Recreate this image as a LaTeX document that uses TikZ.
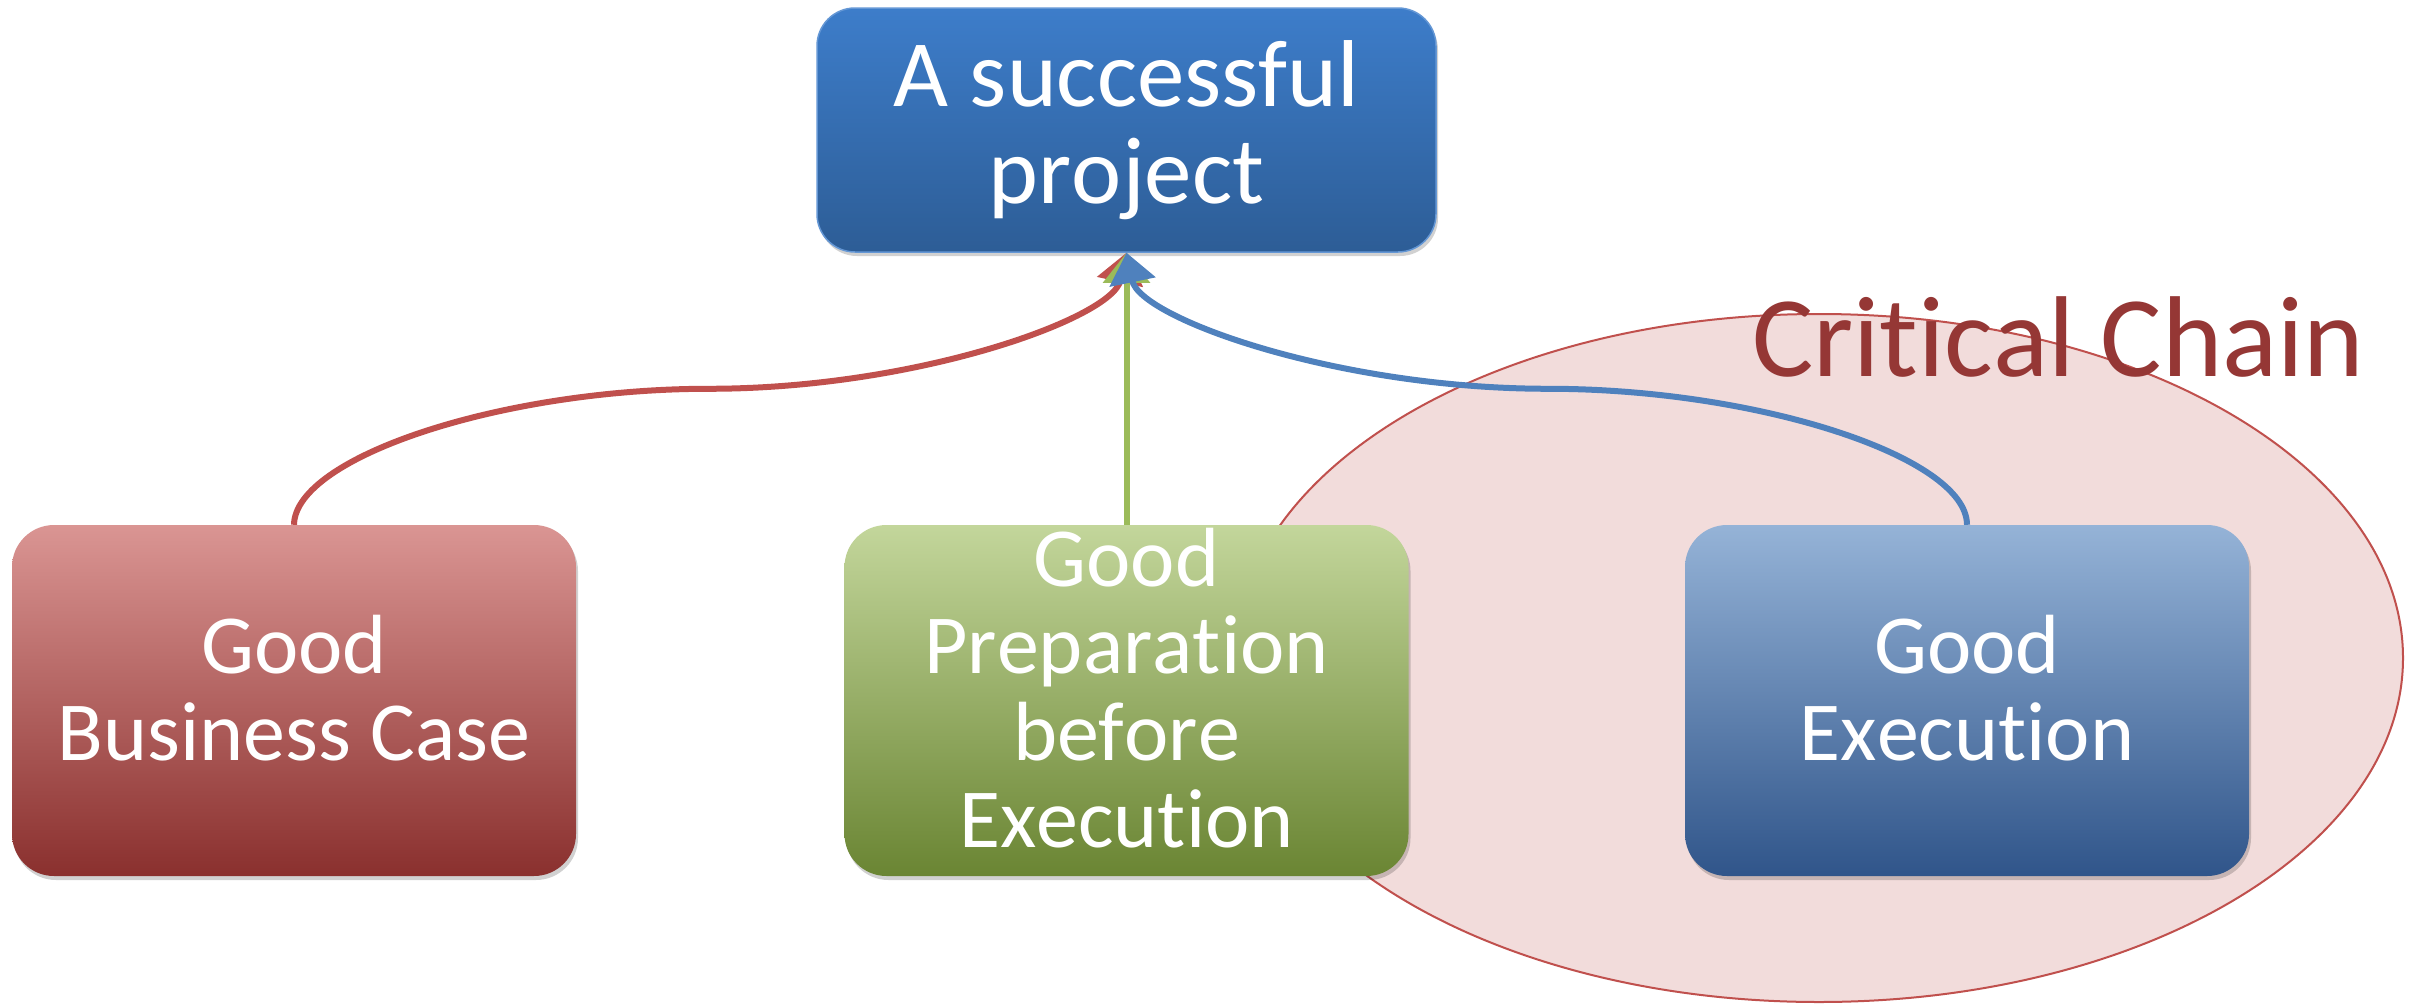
\documentclass[tikz,border=0pt]{standalone}
\usepackage{fontspec}
\setmainfont{Carlito}[Ligatures={NoCommon}, Kerning=Off]
\usetikzlibrary{arrows.meta,shadows,calc}
\definecolor{topA}{HTML}{3D7DCA}
\definecolor{topB}{HTML}{2D5D96}
\definecolor{redA}{HTML}{DA9593}
\definecolor{redB}{HTML}{C0504D}
\definecolor{redC}{HTML}{8A302E}
\definecolor{grnA}{HTML}{C3D69B}
\definecolor{grnB}{HTML}{9BBB59}
\definecolor{grnC}{HTML}{6A8533}
\definecolor{bluA}{HTML}{95B3D7}
\definecolor{bluB}{HTML}{4F81BD}
\definecolor{bluC}{HTML}{30558A}
\definecolor{lineR}{HTML}{C0504D}
\definecolor{lineG}{HTML}{9BBB59}
\definecolor{lineB}{HTML}{4F81BD}
\definecolor{critred}{HTML}{953735}
\definecolor{ellfill}{HTML}{F2DCDB}
\tikzset{
  boxshape/.style={rectangle, rounded corners=42pt, inner sep=0pt, align=center,
    text=white, minimum width=564pt, minimum height=351pt,
    font=\fontsize{84}{87}\selectfont,
    drop shadow={shadow xshift=2pt, shadow yshift=-4pt, opacity=0.18, fill=black}},
  topbox/.style={boxshape, rounded corners=38pt, minimum width=619pt, minimum height=244pt,
    font=\fontsize{95}{97}\selectfont, top color=topA, bottom color=topB, draw=topA!80!white, line width=1.5pt},
  redbox/.style={boxshape, top color=redA, middle color=redB, bottom color=redC},
  grnbox/.style={boxshape, top color=grnA, middle color=grnB, bottom color=grnC},
  blubox/.style={boxshape, top color=bluA, middle color=bluB, bottom color=bluC},
  conn/.style={line width=6pt, -{Triangle[length=30pt, width=46pt]}},
}
\begin{document}
\begin{tikzpicture}[x=1pt, y=-1pt]
\useasboundingbox (0,0) rectangle (2423,1004);
% critical chain ellipse
\draw[fill=ellfill, draw=lineR, line width=2pt] (1819,658) ellipse [x radius=584, y radius=344];
% boxes
\node[topbox] (top) at (1126.5,130) {A successful\\project};
\node[redbox] (bc) at (294,700.5) {Good\\Business Case\strut};
\node[grnbox] (prep) at (1126.5,700.5) {Good\\Preparation\\before\\Execution\strut};
\node[blubox] (exec) at (1967,700.5) {Good\\Execution\strut};
% label
\node[anchor=base west, inner sep=0pt, text=critred, font=\fontsize{115}{120}\selectfont] (cc) at (1752,376) {Critical Chain};
% connectors
\coordinate (mr) at ($(bc.north)!0.5!(top.south)$);
\coordinate (mb) at ($(exec.north)!0.5!(top.south)$);
\draw[conn, lineR] (bc.north) .. controls (295,457) and (503,388.5) .. (mr)
  .. controls (918,388.5) and (1112,318) .. (top.south);
\draw[conn, lineG] (prep.north) -- (top.south);
\draw[conn, lineB] (exec.north) .. controls (1967,457) and (1757,388.5) .. (mb)
  .. controls (1336,388.5) and (1140,318) .. (top.south);
\end{tikzpicture}
\end{document}
